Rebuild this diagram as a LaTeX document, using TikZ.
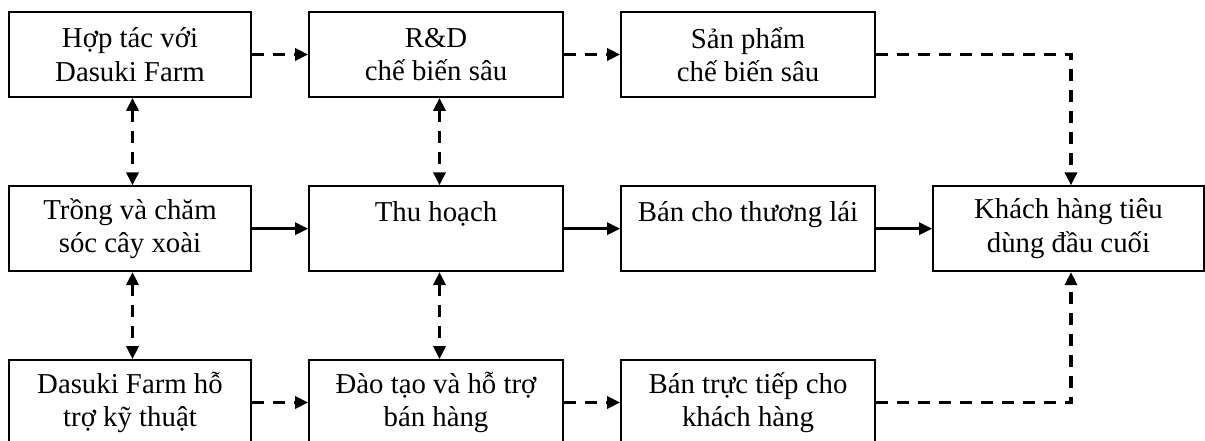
\documentclass[tikz,border=0pt]{standalone}
\usepackage{fontspec}
\setmainfont{Liberation Serif}
\usetikzlibrary{arrows.meta}
\begin{document}
\begin{tikzpicture}[x=1bp,y=-1bp,
  box/.style={draw=black, line width=1.7bp, rectangle, minimum height=85bp,
    inner sep=0pt, align=center, font=\fontsize{28.8bp}{33.5bp}\selectfont},
  w1/.style={minimum width=242bp},
  w2/.style={minimum width=254bp},
  w4/.style={minimum width=271bp},
  tip/.style={Triangle[length=13bp,width=12bp]},
  solidarrow/.style={line width=3bp, -{Triangle[length=13bp,width=12bp]}},
  dasharrow/.style={line width=3.2bp, dash pattern=on 12bp off 9bp, -{Triangle[length=13bp,width=12bp]}},
  dashboth/.style={line width=3.2bp, dash pattern=on 12bp off 9bp, {Triangle[length=13bp,width=12bp]}-{Triangle[length=13bp,width=12bp]}}
]
\useasboundingbox (0,0) rectangle (1205,441);
\begin{scope}
\clip (0,0) rectangle (1205,441);
% top row
\node[box,w1] (t1) at (130,54.5) {Hợp tác với\\Dasuki Farm};
\node[box,w2] (t2) at (436,54.5) {R\&D\\chế biến sâu};
\node[box,w2] (t3) at (748,54.5) {Sản phẩm\\chế biến sâu};
% middle row
\node[box,w1] (m1) at (130,228.7) {Trồng và chăm\\sóc cây xoài};
\node[box,w2] (m2) at (436,228.7) {Thu hoạch\\~};
\node[box,w2] (m3) at (748,228.7) {Bán cho thương lái\\~};
\node[box,w4] (m4) at (1068.5,228.7) {Khách hàng tiêu\\dùng đầu cuối};
% bottom row
\node[box,w1] (b1) at (130,402.5) {Dasuki Farm hỗ\\trợ kỹ thuật};
\node[box,w2] (b2) at (436,402.5) {Đào tạo và hỗ trợ\\bán hàng};
\node[box,w2] (b3) at (748,402.5) {Bán trực tiếp cho\\khách hàng};
% horizontal dashed (top)
\draw[dasharrow] (t1.east) -- (t2.west);
\draw[dasharrow] (t2.east) -- (t3.west);
\draw[dasharrow] (t3.east) -| ([xshift=2.5bp]m4.north);
% solid middle
\draw[solidarrow] (m1.east) -- (m2.west);
\draw[solidarrow] (m2.east) -- (m3.west);
\draw[solidarrow] (m3.east) -- (m4.west);
% bottom dashed
\draw[dasharrow] (b1.east) -- (b2.west);
\draw[dasharrow] (b2.east) -- (b3.west);
\draw[dasharrow] (b3.east) -| ([xshift=2.5bp]m4.south);
% vertical double-headed
\draw[dashboth] ([xshift=2.5bp]t1.south) -- ([xshift=2.5bp]m1.north);
\draw[dashboth] ([xshift=3.5bp]t2.south) -- ([xshift=3.5bp]m2.north);
\draw[dashboth] ([xshift=2.5bp]m1.south) -- ([xshift=2.5bp]b1.north);
\draw[dashboth] ([xshift=3.5bp]m2.south) -- ([xshift=3.5bp]b2.north);
\end{scope}
\end{tikzpicture}
\end{document}
